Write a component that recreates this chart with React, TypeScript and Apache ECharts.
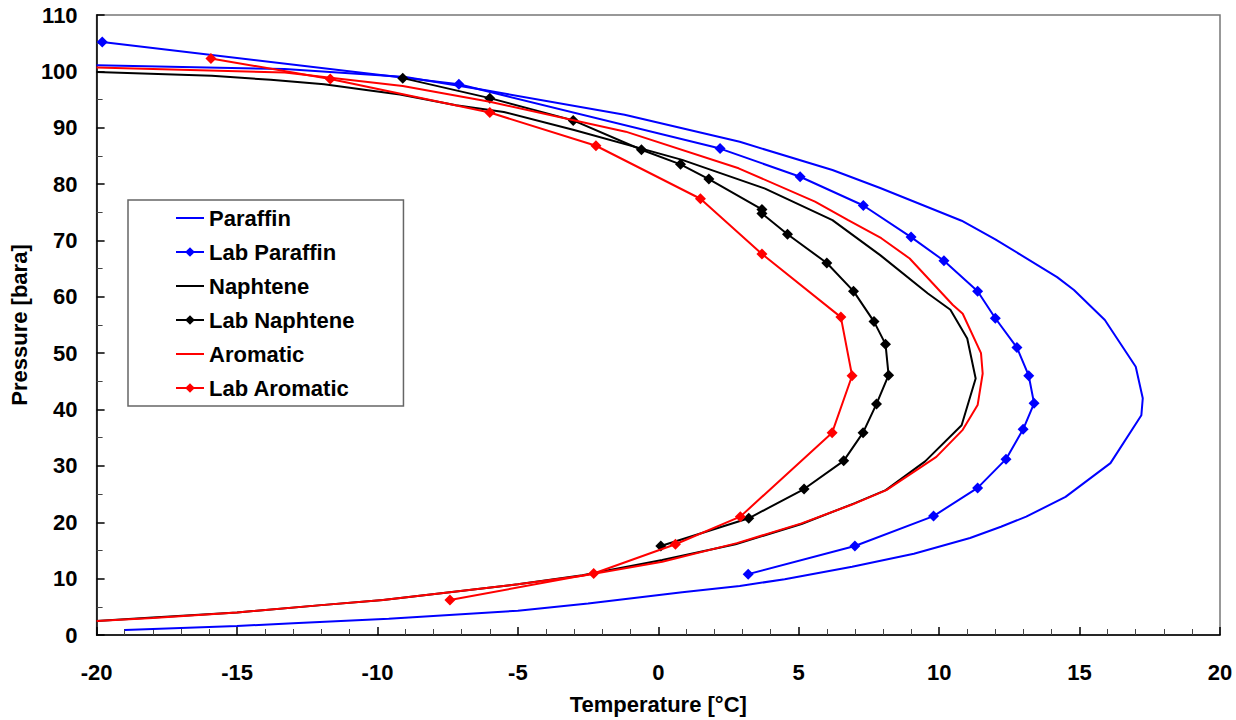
import React, { useEffect, useRef } from "react";
import * as echarts from "echarts";

const xTicks = { min: -20, max: 20, interval: 5 };
const yTicks = { min: 0, max: 110, interval: 10 };

const paraffin: [number, number][] = [
  [-19.0, 0.9], [-15, 1.6], [-13, 2.1], [-9.6, 2.9], [-5, 4.3], [-2.5, 5.6],
  [0.85, 7.6], [2.9, 8.7], [4.5, 9.9], [6.9, 12.1], [9.1, 14.4], [11.1, 17.2],
  [12.2, 19.2], [13.1, 21.0], [14.5, 24.5], [16.1, 30.5], [17.2, 39.0],
  [17.25, 42.0], [17.0, 47.6], [15.9, 55.9], [14.8, 61.2], [14.2, 63.5],
  [12.0, 70.2], [10.8, 73.5], [7.9, 79.3], [6.2, 82.5], [2.9, 87.5],
  [-1.2, 92.3], [-6.2, 96.7], [-9.0, 99.0], [-13.3, 100.4], [-20, 101.1],
];

const labParaffin: [number, number][] = [
  [-19.8, 105.2], [-7.1, 97.7], [2.2, 86.3], [5.05, 81.3], [7.3, 76.2],
  [9.0, 70.6], [10.17, 66.4], [11.37, 61.0], [12.0, 56.2], [12.77, 51.0],
  [13.19, 46.0], [13.38, 41.1], [12.99, 36.5], [12.38, 31.2], [11.37, 26.1],
  [9.8, 21.1], [7.0, 15.8], [3.2, 10.8],
];

const naphtene: [number, number][] = [
  [-20, 99.9], [-15.9, 99.2], [-13.8, 98.5], [-11.9, 97.7], [-10.4, 96.7],
  [-9.2, 95.9], [-7.2, 94.0], [-5.5, 92.8], [-3.0, 89.6], [0.85, 84.3],
  [3.8, 79.2], [6.2, 73.6], [7.9, 67.4], [9.6, 60.6], [10.4, 57.7],
  [11.0, 52.6], [11.3, 45.5], [10.8, 37.2], [9.5, 30.8], [8.1, 25.7],
  [7.0, 23.4], [5.1, 19.7], [2.75, 16.1], [0.14, 13.3], [-2.7, 10.6],
  [-5, 9.0], [-9.8, 6.2], [-12, 5.3], [-15, 4.0], [-18, 3.1], [-20, 2.5],
];

const labNaphtene: [number, number][] = [
  [-9.1, 98.8], [-6.0, 95.25], [-3.03, 91.3], [-0.6, 86.1], [0.79, 83.5],
  [1.8, 80.9], [3.69, 75.5], [3.69, 74.8], [4.6, 71.1], [6.0, 66.0],
  [6.95, 61.0], [7.68, 55.6], [8.09, 51.6], [8.2, 46.1], [7.77, 41.0],
  [7.29, 35.9], [6.6, 30.9], [5.19, 25.9], [3.22, 20.7], [0.09, 15.8],
];

const aromatic: [number, number][] = [
  [-20, 100.7], [-13.3, 99.8], [-9.1, 97.4], [-6.0, 94.6], [-1.16, 89.3],
  [2.86, 82.8], [5.58, 76.9], [6.76, 73.6], [7.94, 70.4], [8.95, 66.8],
  [10.48, 58.6], [10.84, 57.0], [11.49, 50.0], [11.55, 46.4], [11.37, 40.8],
  [10.84, 36.4], [9.9, 31.6], [8.12, 25.7], [6.88, 23.1], [5.1, 19.8],
  [2.8, 16.3], [0.14, 13.0], [-2.7, 10.5], [-5, 9.0], [-9.8, 6.2],
  [-12, 5.3], [-15, 4.0], [-18, 3.0], [-20, 2.5],
];

const labAromatic: [number, number][] = [
  [-15.93, 102.3], [-11.68, 98.65], [-6.0, 92.7], [-2.22, 86.8], [1.5, 77.4],
  [3.69, 67.6], [6.5, 56.4], [6.9, 46.0], [6.19, 35.9], [2.92, 21.0],
  [0.61, 16.1], [-2.3, 10.9], [-7.42, 6.2],
];

const seriesNames = [
  "Paraffin", "Lab Paraffin", "Naphtene", "Lab Naphtene", "Aromatic", "Lab Aromatic",
];
const seriesData = [paraffin, labParaffin, naphtene, labNaphtene, aromatic, labAromatic];
const seriesColors = ["#0000FF", "#0000FF", "#000000", "#000000", "#FF0000", "#FF0000"];
const seriesMarkers = [false, true, false, true, false, true];

const FONT = "'Liberation Sans', Arial, Helvetica, sans-serif";

export default function App() {
  const ref = useRef<HTMLDivElement>(null);
  useEffect(() => {
    if (!ref.current) return;
    const chart = echarts.init(ref.current, null, { renderer: "svg" });
    const axisLabel = {
      fontSize: 22,
      fontWeight: "bold" as const,
      color: "#000",
      fontFamily: FONT,
    };
    chart.setOption({
      animation: false,
      backgroundColor: "#fff",
      grid: {
        left: 92,
        right: 16,
        top: 15,
        bottom: 85,
        show: true,
        borderColor: "#777",
        borderWidth: 1.5,
        backgroundColor: "transparent",
      },
      legend: {
        orient: "vertical",
        left: 128,
        top: 200,
        data: seriesNames.map((name, i) =>
          seriesMarkers[i] ? { name } : { name, itemStyle: { opacity: 0 } }
        ),
        itemWidth: 28,
        itemHeight: 12,
        itemGap: 10,
        padding: [6, 49, 6, 47],
        backgroundColor: "#fff",
        borderColor: "#666",
        borderWidth: 1.5,
        borderRadius: 0,
        textStyle: {
          fontSize: 22,
          fontWeight: "bold",
          color: "#000",
          fontFamily: FONT,
          lineHeight: 24,
        },
      },
      xAxis: {
        type: "value",
        min: xTicks.min,
        max: xTicks.max,
        interval: xTicks.interval,
        name: "Temperature [°C]",
        nameLocation: "middle",
        nameGap: 58,
        nameTextStyle: { ...axisLabel },
        axisLine: { onZero: false, lineStyle: { color: "#000", width: 1.5 } },
        axisTick: { inside: true, length: 8, lineStyle: { color: "#000", width: 1.5 } },
        minorTick: { show: true, splitNumber: 5, length: 6, lineStyle: { color: "#444", width: 1 } },
        splitLine: { show: false },
        axisLabel: { ...axisLabel, margin: 26 },
      },
      yAxis: {
        type: "value",
        min: yTicks.min,
        max: yTicks.max,
        interval: yTicks.interval,
        name: "Pressure [bara]",
        nameLocation: "middle",
        nameGap: 58,
        nameTextStyle: { ...axisLabel },
        axisLine: { onZero: false, lineStyle: { color: "#000", width: 1.5 } },
        axisTick: { inside: true, length: 8, lineStyle: { color: "#000", width: 1.5 } },
        minorTick: { show: true, splitNumber: 2, length: 6, lineStyle: { color: "#444", width: 1 } },
        splitLine: { show: false },
        axisLabel: { ...axisLabel, margin: 19 },
      },
      series: seriesNames.map((name, i) => ({
        name,
        type: "line",
        data: seriesData[i],
        color: seriesColors[i],
        symbol: seriesMarkers[i] ? "diamond" : "none",
        symbolSize: 11,
        showSymbol: seriesMarkers[i],
        lineStyle: { color: seriesColors[i], width: 2 },
        itemStyle: { color: seriesColors[i] },
        emphasis: { disabled: true },
        z: 2 + i,
      })),
    });
    return () => chart.dispose();
  }, []);
  return (
    <div
      ref={ref}
      style={{ position: "fixed", left: 0, top: 0, width: 1236, height: 720 }}
    />
  );
}
